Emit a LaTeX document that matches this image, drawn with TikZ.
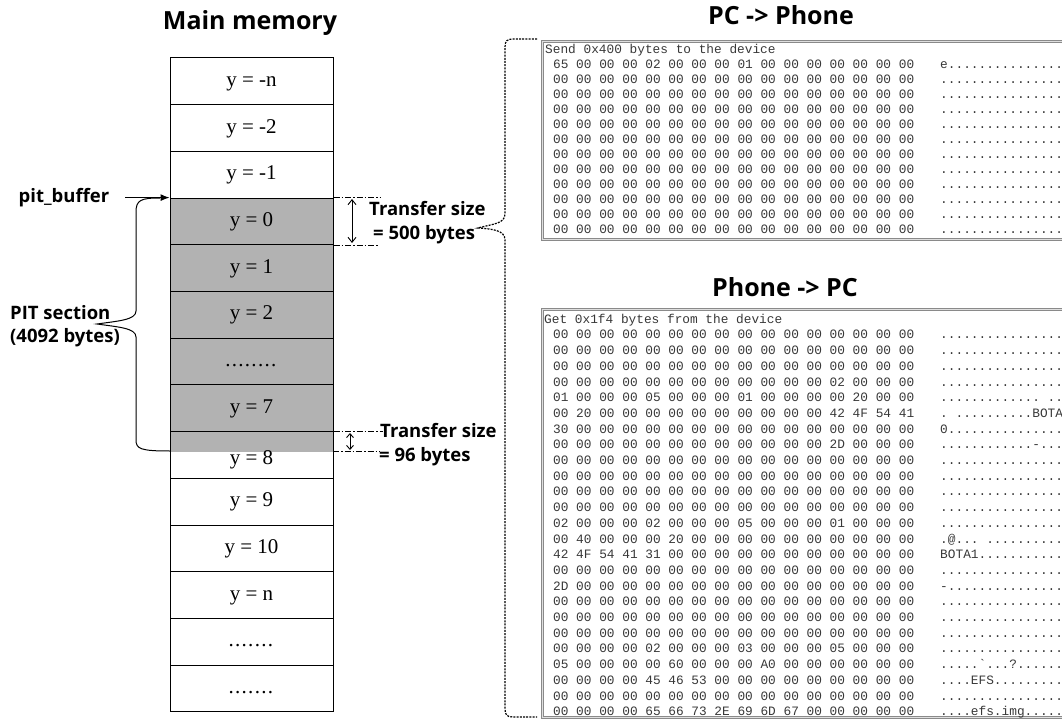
\documentclass[tikz,border=0pt]{standalone}
\usepackage{fontspec}
\setmainfont{Liberation Serif}
\newfontfamily\opensans{Open Sans}
\newfontfamily\monof{Liberation Mono}
\usetikzlibrary{arrows.meta}
\definecolor{pitgray}{HTML}{B2B2B2}
\definecolor{hexcol}{HTML}{383838}
\definecolor{panelcol}{HTML}{8A8A8A}
\newcommand\memfont{\fontsize{21}{25}\selectfont}
\newcommand\lblfont{\opensans\bfseries\fontsize{18.5}{22}\selectfont}
\newcommand\ttlfont{\opensans\bfseries\fontsize{25}{30}\selectfont}
\newcommand\hexfont{\monof\fontsize{12.8}{15}\selectfont}
\def\zr{00 00 00 00 00 00 00 00 00 00 00 00 00 00 00 00}
\def\dt{................}
\def\dd{.\kern1.3pt}
\newcommand\botline[3]{%
  \node[hexrow] (br#1) at (553,{319+15.7*#1+4.2}) {#2};
  \node[hexrow] (ba#1) at (940,{319+15.7*#1+4.2}) {#3};}
\begin{document}
\begin{tikzpicture}[x=1pt,y=-1pt,
  cell/.style={draw=black, line width=1pt, minimum width=163pt, minimum height=46.7pt,
    inner sep=0pt, font=\memfont, text height=14pt, text depth=4pt},
  pitcell/.style={cell, fill=pitgray},
  lbl/.style={font=\lblfont, inner sep=0pt},
  ttl/.style={font=\ttlfont, inner sep=0pt},
  hexrow/.style={font=\hexfont, text=hexcol, inner sep=0pt, anchor=base west},
  panel/.style={draw=panelcol, double=gray!25, double distance=0.8pt, line width=0.8pt,
    inner sep=0pt, anchor=north west},
  dimline/.style={line width=0.7pt, dash pattern=on 6pt off 2pt on 1.5pt off 2pt},
  dimarrow/.style={line width=0.9pt, {Straight Barb[length=5pt,width=8pt]}-{Straight Barb[length=5pt,width=8pt]}},
  dbrace/.style={line width=1.2pt, dash pattern=on 2pt off 1.2pt}
]
\useasboundingbox (0,0) rectangle (1062,719);
\clip (0,0) rectangle (1062,719);

% titles
\node[ttl] (mmt) at (250,23) {Main memory};
\node[ttl] (t1) at (781,15) {PC -> Phone};
\node[ttl] (t2) at (785,287) {Phone -> PC};

% gray part of row y=8
\fill[pitgray] (170,431.6) rectangle (333,452);

% memory cells
\foreach \k/\t in {0/{y = -n},1/{y = -2},2/{y = -1},9/{y = 9},10/{y = 10},11/{y = n},
  12/{\dd\dd\dd\dd\dd\dd\dd},13/{\dd\dd\dd\dd\dd\dd\dd}}
  \node[cell] (m\k) at (251.5,{81.35+46.7*\k}) {\t};
\foreach \k/\t in {3/{y = 0},4/{y = 1},5/{y = 2},6/{\dd\dd\dd\dd\dd\dd\dd\dd},7/{y = 7}}
  \node[pitcell] (m\k) at (251.5,{81.35+46.7*\k}) {\t};
\node[cell] (m8) at (251.5,{81.35+46.7*8}) {};
\node[font=\memfont, inner sep=0pt] (t8) at (251.5,460) {y = 8};

% left labels
\node[lbl] (pitbuf) at (64,198) {pit\_buffer};
\node[lbl, anchor=west] (pits) at (10,313) {PIT section};
\node[lbl, anchor=west] (pitb) at (10,338) {(4092 bytes)};
\draw[line width=1pt, -{Latex[length=9pt,width=7pt]}, shorten <=16pt]
  (pitbuf.east |- m3.north) -- (m3.north west);
\draw[line width=1pt] (160,198) .. controls (141,198) and (136,200) .. (136,212)
  -- (136,311) .. controls (136,320) and (118,321) .. (97,324)
  .. controls (118,327) and (136,328) .. (136,337)
  -- (136,440) .. controls (136,449) and (141,451) .. (170,451);

% transfer sizes
\node[lbl, anchor=west] (ts1) at (369,209) {Transfer size};
\node[lbl, anchor=west] (tb1) at (373,235) {= 500 bytes};
\node[lbl, anchor=west] (ts2) at (380,431) {Transfer size};
\node[lbl, anchor=west] (tb2) at (379,457) {= 96 bytes};
\coordinate (d1a) at (m3.north east);
\coordinate (d1b) at (m3.south east);
\draw[dimline] (d1a) -- ++(47,0);
\draw[dimline] (d1b) -- ++(45,0);
\draw[dimarrow] (352,199) -- (352,243);
\coordinate (d2a) at (m8.north east);
\coordinate (d2b) at (333,451);
\draw[dimline] (d2a) -- ++(49,0);
\draw[dimline] (d2b) -- ++(47,0);
\draw[line width=0.9pt, {Straight Barb[length=4pt,width=7pt]}-{Straight Barb[length=4pt,width=7pt]}] (350,433) -- (350,450);

% dashed brace to the dumps
\draw[dbrace] (537,39) -- (513,39) .. controls (507,39) and (505,41) .. (505,47)
  -- (505,214) .. controls (505,224) and (492,224) .. (478,228)
  .. controls (492,229) and (505,230) .. (505,240)
  -- (505,709) .. controls (505,715) and (507,717) .. (513,717) -- (537,717);

% panels
\node[panel, minimum width=540pt, minimum height=198pt] (ptop) at (542,41) {};
\node[panel, minimum width=540pt, minimum height=408pt] (pbot) at (542,309) {};

% top dump
\node[hexrow] (th) at (545,53.2) {Send 0x400 bytes to the device};
\node[hexrow] (tr1) at (553,68.2) {65 00 00 00 02 00 00 00 01 00 00 00 00 00 00 00};
\node[hexrow] (ta1) at (940,68.2) {e\dt};
\foreach \i in {2,3,4,5,6,7,8,9,10,11,12}{
  \node[hexrow] (tr\i) at (553,{49+15*\i+4.2}) {\zr};
  \node[hexrow] (ta\i) at (940,{49+15*\i+4.2}) {\dt};
}

% bottom dump
\node[hexrow] (bh) at (544,323.2) {Get 0x1f4 bytes from the device};
\botline{1}{\zr}{\dt}
\botline{2}{\zr}{\dt}
\botline{3}{\zr}{\dt}
\botline{4}{00 00 00 00 00 00 00 00 00 00 00 00 02 00 00 00}{\dt}
\botline{5}{01 00 00 00 05 00 00 00 01 00 00 00 00 20 00 00}{.............\ ..}
\botline{6}{00 20 00 00 00 00 00 00 00 00 00 00 42 4F 54 41}{.\ ..........BOTA}
\botline{7}{30 00 00 00 00 00 00 00 00 00 00 00 00 00 00 00}{0...............}
\botline{8}{00 00 00 00 00 00 00 00 00 00 00 00 2D 00 00 00}{............-...}
\botline{9}{\zr}{\dt}
\botline{10}{\zr}{\dt}
\botline{11}{\zr}{\dt}
\botline{12}{\zr}{\dt}
\botline{13}{02 00 00 00 02 00 00 00 05 00 00 00 01 00 00 00}{\dt}
\botline{14}{00 40 00 00 00 20 00 00 00 00 00 00 00 00 00 00}{.@...\ ..........}
\botline{15}{42 4F 54 41 31 00 00 00 00 00 00 00 00 00 00 00}{BOTA1...........}
\botline{16}{\zr}{\dt}
\botline{17}{2D 00 00 00 00 00 00 00 00 00 00 00 00 00 00 00}{-...............}
\botline{18}{\zr}{\dt}
\botline{19}{\zr}{\dt}
\botline{20}{\zr}{\dt}
\botline{21}{00 00 00 00 02 00 00 00 03 00 00 00 05 00 00 00}{\dt}
\botline{22}{05 00 00 00 00 60 00 00 00 A0 00 00 00 00 00 00}{.....\symbol{96}...?......}
\botline{23}{00 00 00 00 45 46 53 00 00 00 00 00 00 00 00 00}{....EFS.........}
\botline{24}{\zr}{\dt}
\botline{25}{00 00 00 00 65 66 73 2E 69 6D 67 00 00 00 00 00}{....efs.img.....}
\end{tikzpicture}
\end{document}
